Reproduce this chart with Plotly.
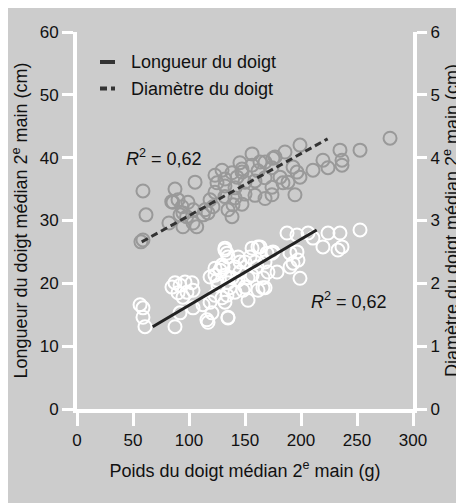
import plotly.graph_objects as go

# ---- data ----
weight_length = [56.3, 58.9, 58.9, 60.7, 84.8, 87.5, 92.0, 96.4, 102.7, 103.6,
                 98.2, 94.6, 90.2, 87.5, 92.0, 103.6, 112.5, 118.8, 120.5, 116.0,
                 134.8, 125.0, 123.2, 127.7, 130.4, 133.9, 132.1, 156.3, 163.4, 169.6,
                 175.0, 166.0, 178.6, 187.5, 196.4, 206.3, 210.7, 192.9, 190.2, 197.3,
                 199.1, 190.2, 196.4, 219.6, 224.1, 234.8, 233.0, 236.6, 252.7,
                 132.1, 134.8, 118.8, 123.2, 129.5, 132.1, 125.9, 134.8, 141.1, 145.5,
                 143.8, 150.0, 154.5, 161.6, 160.7, 156.3, 150.0, 141.1, 133.9, 152.7,
                 132.1, 129.5, 167.9, 166.1, 167.9, 174.1, 170.5, 123.2, 117.0, 134.8,
                 145.5, 138.4, 152.7, 158.9, 143.8, 148.2, 161.6, 136.6]
length_cm = [16.6, 16.1, 14.6, 13.1, 19.4, 20.1, 19.7, 20.2, 20.1, 18.9,
             18.6, 17.8, 18.5, 13.1, 15.3, 16.1, 16.6, 17.0, 15.3, 14.2,
             14.6, 20.5, 21.3, 22.1, 22.6, 24.8, 25.6, 25.6, 25.8, 24.8,
             25.0, 19.3, 21.8, 28.0, 27.7, 28.0, 27.2, 23.2, 22.6, 23.7,
             20.8, 24.8, 25.0, 25.8, 28.0, 28.0, 25.3, 25.8, 28.5,
             25.3, 24.2, 21.0, 22.4, 22.9, 21.3, 19.7, 20.1, 22.6, 21.8,
             20.5, 23.4, 24.2, 25.8, 22.6, 21.3, 19.4, 18.6, 18.1, 17.3,
             17.0, 17.7, 19.3, 20.9, 23.4, 24.8, 21.8, 18.1, 13.8, 14.5,
             23.4, 20.9, 20.9, 23.4, 24.2, 18.9, 18.9, 19.3]

weight_diameter = [58.9, 61.6, 57.1, 58.9, 87.5, 105.4, 85.7, 90.2, 93.8, 99.1,
                   94.6, 118.8, 121.4, 117.0, 82.1, 94.6, 103.6,
                   156.3, 145.5, 147.3, 163.4, 175.0, 185.7, 199.1, 192.9, 196.4, 199.1,
                   210.7, 219.6, 224.1, 234.8, 236.6, 252.7, 279.5, 194.6,
                   123.2, 129.5, 132.1, 138.4, 142.9, 147.3, 156.3, 161.6, 167.9, 174.1,
                   125.0, 132.1, 141.1, 150.0, 158.9, 167.9, 174.1,
                   123.2, 132.1, 141.1, 150.0, 158.9, 167.9, 174.1,
                   139.3, 147.3, 134.8, 138.4, 114.3,
                   176.8, 188.4, 181.3, 183.9, 236.6,
                   106.9, 92.0, 97.9, 112.8, 84.6, 103.8]
diameter_cm = [3.47, 3.09, 2.66, 2.69, 3.50, 3.61, 3.29, 3.33, 3.22, 3.29,
               3.12, 3.33, 3.22, 3.12, 2.96, 2.90, 2.96,
               4.06, 3.92, 3.77, 3.93, 3.99, 4.09, 4.20, 3.85, 3.77, 3.69,
               3.80, 3.96, 3.84, 4.12, 3.88, 4.12, 4.31, 3.41,
               3.72, 3.80, 3.66, 3.76, 3.69, 3.82, 3.88, 3.79, 3.93, 3.84,
               3.60, 3.55, 3.52, 3.61, 3.63, 3.68, 3.53,
               3.45, 3.38, 3.36, 3.42, 3.40, 3.35, 3.41,
               3.25, 3.26, 3.17, 3.06, 3.17,
               4.01, 3.61, 3.69, 3.60, 3.96,
               2.90, 3.09, 3.06, 3.09, 3.30, 3.17]

# regression lines (end points)
trend_length_x = [67.6, 214.0]
trend_length_y = [13.1, 28.5]
trend_diameter_x = [57.8, 223.8]
trend_diameter_y = [2.66, 4.30]

x_ticks = [0, 50, 100, 150, 200, 250, 300]
y_ticks = [0, 10, 20, 30, 40, 50, 60]
y2_ticks = [0, 1, 2, 3, 4, 5, 6]
r2_text = "0,62"

# ---- figure (the page adds an 8px body margin) ----
W, H = 464, 503
OFF = 8
ML, MT = 69, 24
PW, PH = 336, 377
MR, MB = W - ML - PW, H - MT - PH
BG = "#cccccc"
FONT = "Liberation Sans, Arial, Helvetica, sans-serif"
TXT = "#111111"

fig = go.Figure()
fig.add_trace(go.Scatter(
    x=weight_diameter, y=diameter_cm, yaxis="y2", mode="markers",
    marker=dict(symbol="circle-open", size=13, color="#999999", line=dict(width=2)),
    showlegend=False, hoverinfo="skip"))
fig.add_trace(go.Scatter(
    x=weight_length, y=length_cm, mode="markers",
    marker=dict(symbol="circle-open", size=13, color="#ffffff", line=dict(width=2)),
    showlegend=False, hoverinfo="skip"))
fig.add_trace(go.Scatter(
    x=trend_diameter_x, y=trend_diameter_y, yaxis="y2", mode="lines",
    line=dict(color="#333333", width=3, dash="7px,4px"), showlegend=False))
fig.add_trace(go.Scatter(
    x=trend_length_x, y=trend_length_y, mode="lines",
    line=dict(color="#222222", width=3), showlegend=False))


def px_x(p):  # page pixel -> paper fraction
    return (p - OFF - ML) / PW


def px_y(p):
    return (MT + PH - (p - OFF)) / PH


shapes = [
    dict(type="line", xref="paper", yref="paper", x0=px_x(100), x1=px_x(115), y0=px_y(62), y1=px_y(62),
         line=dict(color="#333333", width=4)),
    dict(type="line", xref="paper", yref="paper", x0=px_x(100), x1=px_x(115), y0=px_y(88.5), y1=px_y(88.5),
         line=dict(color="#333333", width=4, dash="7px,4px")),
]

annotations = [
    dict(xref="paper", yref="paper", x=px_x(129), y=px_y(62), xanchor="left", yanchor="middle",
         text="Longueur du doigt", showarrow=False, font=dict(size=18, color=TXT, family=FONT)),
    dict(xref="paper", yref="paper", x=px_x(129), y=px_y(88.5), xanchor="left", yanchor="middle",
         text="Diamètre du doigt", showarrow=False, font=dict(size=18, color=TXT, family=FONT)),
    dict(xref="x", yref="y", x=78, y=40.1, xanchor="center", yanchor="middle",
         text="<i>R</i><sup>2</sup> = " + r2_text, showarrow=False,
         font=dict(size=18, color=TXT, family=FONT)),
    dict(xref="x", yref="y", x=243, y=17.2, xanchor="center", yanchor="middle",
         text="<i>R</i><sup>2</sup> = " + r2_text, showarrow=False,
         font=dict(size=18, color=TXT, family=FONT)),
]

axis_common = dict(showline=True, linecolor="white", linewidth=4, ticks="outside",
                   tickcolor="white", tickwidth=3, showgrid=False, zeroline=False,
                   tickfont=dict(size=17, color=TXT, family=FONT), automargin=False)

fig.update_layout(
    width=W, height=H,
    margin=dict(l=ML, r=MR, t=MT, b=MB, pad=0),
    paper_bgcolor=BG, plot_bgcolor=BG,
    font=dict(family=FONT, color=TXT),
    xaxis=dict(range=[0, 300], tickvals=x_ticks, ticklen=13,
               title=dict(text="Poids du doigt médian 2<sup>e</sup> main (g)",
                          font=dict(size=18, color=TXT, family=FONT), standoff=16),
               **axis_common),
    yaxis=dict(range=[0, 60], tickvals=y_ticks, ticklen=11,
               title=dict(text="Longueur du doigt médian 2<sup>e</sup> main (cm)",
                          font=dict(size=18, color=TXT, family=FONT), standoff=8),
               **axis_common),
    yaxis2=dict(range=[0, 6], tickvals=y2_ticks, ticklen=10, overlaying="y", side="right",
                title=dict(text="Diamètre du doigt médian 2<sup>e</sup> main (cm)",
                           font=dict(size=18, color=TXT, family=FONT), standoff=4),
                **axis_common),
    shapes=shapes, annotations=annotations, showlegend=False,
)

fig.write_html("out.html")
